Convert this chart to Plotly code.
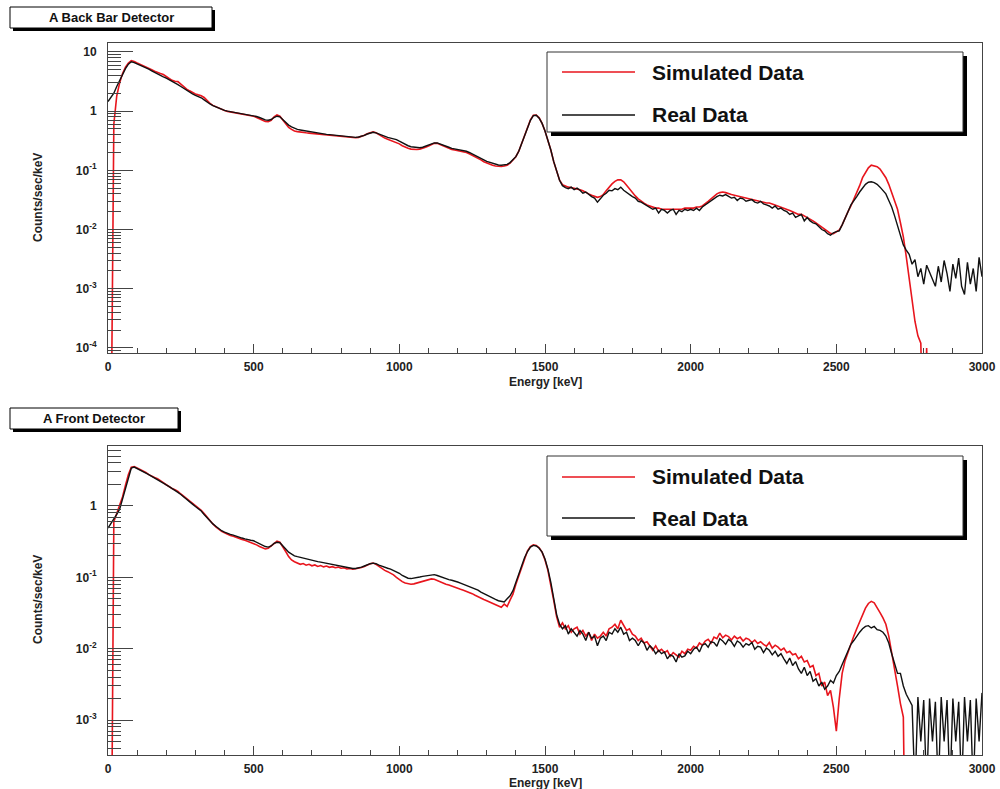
import plotly.graph_objects as go

# ---------------- data ----------------
energy_kev = list(range(0, 3001, 10))

back_real = [
    1.45, 1.7, 2.0, 2.6, 3.3, 4.2, 5.2, 6.2, 6.8, 6.6,
    6.3, 6.0, 5.7, 5.4, 5.1, 4.8, 4.5, 4.2, 4.0, 3.8,
    3.6, 3.4, 3.2, 3.0, 2.8, 2.6, 2.4, 2.25, 2.1, 1.95,
    1.85, 1.78, 1.68, 1.55, 1.42, 1.32, 1.24, 1.18, 1.12, 1.07,
    1.03, 1.0, 0.98, 0.96, 0.94, 0.92, 0.9, 0.89, 0.87, 0.86,
    0.84, 0.81, 0.78, 0.74, 0.71, 0.7, 0.72, 0.78, 0.82, 0.8,
    0.72, 0.64, 0.58, 0.54, 0.51, 0.49, 0.48, 0.47, 0.46, 0.45,
    0.44, 0.43, 0.425, 0.42, 0.41, 0.405, 0.4, 0.395, 0.39, 0.385,
    0.38, 0.375, 0.37, 0.365, 0.36, 0.36, 0.365, 0.375, 0.39, 0.41,
    0.43, 0.44, 0.43, 0.41, 0.39, 0.375, 0.36, 0.35, 0.34, 0.33,
    0.31, 0.29, 0.27, 0.26, 0.25, 0.245, 0.24, 0.24, 0.245, 0.255,
    0.265, 0.28, 0.29, 0.29, 0.28, 0.27, 0.255, 0.245, 0.235, 0.23,
    0.225, 0.22, 0.215, 0.21, 0.2, 0.19, 0.18, 0.17, 0.16, 0.15,
    0.142, 0.136, 0.13, 0.126, 0.123, 0.122, 0.123, 0.126, 0.135, 0.15,
    0.17, 0.21, 0.28, 0.38, 0.52, 0.7, 0.84, 0.85, 0.76, 0.62,
    0.46, 0.33, 0.22, 0.14, 0.095, 0.068, 0.055, 0.051, 0.049, 0.052,
    0.047, 0.05, 0.046, 0.041, 0.043, 0.039, 0.036, 0.034, 0.029, 0.033,
    0.038, 0.041, 0.046, 0.045, 0.049, 0.047, 0.052, 0.046, 0.042, 0.038,
    0.036, 0.034, 0.03, 0.029, 0.027, 0.025, 0.024, 0.022, 0.023, 0.019,
    0.022, 0.021, 0.019, 0.021, 0.022, 0.018, 0.021, 0.02, 0.022, 0.021,
    0.022, 0.021, 0.023, 0.021, 0.024, 0.026, 0.028, 0.031, 0.034, 0.036,
    0.038, 0.037, 0.039, 0.036, 0.034, 0.035, 0.031, 0.034, 0.033, 0.03,
    0.031, 0.032, 0.029, 0.028, 0.03, 0.027, 0.026, 0.025, 0.023, 0.025,
    0.022, 0.023, 0.021, 0.02, 0.018, 0.019, 0.016, 0.017, 0.018, 0.014,
    0.016, 0.014, 0.013, 0.0125, 0.011, 0.01, 0.0095, 0.0085, 0.008, 0.0088,
    0.0092, 0.0095, 0.012, 0.015, 0.02, 0.026, 0.03, 0.036, 0.043, 0.051,
    0.058, 0.063, 0.064, 0.062, 0.058, 0.052, 0.046, 0.04, 0.031, 0.024,
    0.017, 0.012, 0.008, 0.0055, 0.0045, 0.0038, 0.0026, 0.0031, 0.0016, 0.0022,
    0.0012, 0.0025, 0.0019, 0.0014, 0.0011, 0.0024, 0.0013, 0.003, 0.0018, 0.0009,
    0.0026, 0.0015, 0.0033, 0.0011, 0.0008, 0.0028, 0.0012, 0.0022, 0.0009, 0.0034,
    0.0016,
]

back_sim = [
    1e-6, 1e-6, 0.6, 1.8, 3.0, 4.3, 5.5, 6.5, 7.1, 6.9,
    6.5, 6.2, 5.9, 5.6, 5.3, 5.0, 4.7, 4.45, 4.3, 4.15,
    3.85, 3.55, 3.3, 3.2, 3.15, 2.85, 2.55, 2.35, 2.2, 2.05,
    1.95, 1.88, 1.82, 1.7, 1.5, 1.35, 1.25, 1.18, 1.11, 1.06,
    1.02, 0.99, 0.97, 0.95, 0.93, 0.91, 0.89, 0.88, 0.86, 0.85,
    0.82, 0.78, 0.74, 0.7, 0.67, 0.66, 0.7, 0.8, 0.86, 0.82,
    0.7, 0.6, 0.53, 0.49, 0.46, 0.45, 0.44, 0.435, 0.43, 0.425,
    0.42, 0.415, 0.41, 0.405, 0.4, 0.395, 0.39, 0.385, 0.38, 0.378,
    0.375, 0.37, 0.365, 0.36, 0.355, 0.355, 0.36, 0.37, 0.39, 0.415,
    0.435, 0.445, 0.43, 0.4, 0.37, 0.35, 0.335, 0.32, 0.31, 0.3,
    0.28, 0.26, 0.245, 0.235, 0.228, 0.225, 0.225, 0.228, 0.235, 0.245,
    0.258, 0.272, 0.285, 0.285, 0.272, 0.258, 0.245, 0.235, 0.225, 0.22,
    0.215, 0.21, 0.205, 0.2, 0.19, 0.18, 0.17, 0.16, 0.15, 0.14,
    0.133, 0.127, 0.122, 0.118, 0.116, 0.116, 0.118, 0.122, 0.132, 0.148,
    0.17, 0.21, 0.28, 0.38, 0.53, 0.71, 0.85, 0.86, 0.77, 0.62,
    0.46, 0.33, 0.22, 0.14, 0.095, 0.068, 0.057, 0.054, 0.052, 0.051,
    0.05, 0.049, 0.047, 0.045, 0.043, 0.04, 0.038, 0.036, 0.035, 0.036,
    0.039, 0.045, 0.052, 0.059, 0.065, 0.069, 0.069, 0.064, 0.056, 0.048,
    0.042, 0.037, 0.033, 0.03, 0.028, 0.026, 0.025, 0.024, 0.023, 0.023,
    0.022, 0.022, 0.022, 0.022, 0.022, 0.022, 0.022, 0.022, 0.023, 0.023,
    0.023, 0.023, 0.024, 0.024, 0.025, 0.027, 0.03, 0.033, 0.037, 0.04,
    0.042, 0.043, 0.042, 0.04, 0.039, 0.038, 0.037, 0.036, 0.035, 0.034,
    0.034, 0.033, 0.032, 0.031, 0.03, 0.029, 0.028, 0.028, 0.027, 0.026,
    0.025, 0.024, 0.023, 0.022, 0.021, 0.02, 0.019, 0.018, 0.018, 0.017,
    0.016, 0.015, 0.014, 0.013, 0.012, 0.011, 0.01, 0.0092, 0.0086, 0.0085,
    0.009, 0.0098, 0.012, 0.016, 0.02, 0.025, 0.032, 0.042, 0.055, 0.075,
    0.092, 0.11, 0.122, 0.12, 0.115, 0.105, 0.09, 0.075, 0.058, 0.042,
    0.03, 0.022, 0.013, 0.0075, 0.0035, 0.0016, 0.0006, 0.00028, 0.00016, 0.00012,
    1e-6, 0.0001, 1e-6, 1e-6, 1e-6, 1e-6, 1e-6, 1e-6, 1e-6, 1e-6,
    1e-6, 1e-6, 1e-6, 1e-6, 1e-6, 1e-6, 1e-6, 1e-6, 1e-6, 1e-6,
    1e-6,
]

front_real = [
    0.49, 0.56, 0.65, 0.76, 0.9, 1.25, 1.8, 2.6, 3.4, 3.5,
    3.35, 3.2, 3.05, 2.9, 2.75, 2.6, 2.45, 2.3, 2.2, 2.07,
    1.97, 1.87, 1.77, 1.67, 1.55, 1.45, 1.35, 1.25, 1.15, 1.06,
    0.98, 0.91, 0.85, 0.76, 0.68, 0.61, 0.56, 0.52, 0.48, 0.45,
    0.43, 0.41, 0.4, 0.39, 0.375, 0.365, 0.355, 0.345, 0.335, 0.33,
    0.325, 0.31, 0.295, 0.28, 0.27, 0.265, 0.275, 0.3, 0.31, 0.305,
    0.28, 0.25, 0.225, 0.21, 0.2, 0.195, 0.19, 0.185, 0.18, 0.176,
    0.172, 0.17, 0.166, 0.163, 0.16, 0.157, 0.155, 0.152, 0.148, 0.145,
    0.142, 0.138, 0.136, 0.134, 0.133, 0.133, 0.135, 0.139, 0.144, 0.15,
    0.155, 0.158, 0.155, 0.148, 0.142, 0.138, 0.134, 0.13, 0.125, 0.12,
    0.114, 0.106, 0.1, 0.097, 0.096, 0.097, 0.099, 0.101, 0.103, 0.105,
    0.107, 0.108, 0.109, 0.106, 0.102, 0.098, 0.096, 0.093, 0.091, 0.089,
    0.086, 0.083, 0.08, 0.077, 0.075, 0.072, 0.069, 0.066, 0.062, 0.059,
    0.056, 0.053, 0.051, 0.049, 0.047, 0.046, 0.045, 0.05, 0.055, 0.065,
    0.085, 0.11, 0.15, 0.19, 0.23, 0.265, 0.28, 0.275, 0.255, 0.225,
    0.18, 0.13, 0.085, 0.05, 0.03, 0.022, 0.019, 0.021, 0.016, 0.019,
    0.017, 0.015, 0.018, 0.016, 0.013, 0.017, 0.014, 0.015, 0.011, 0.014,
    0.015, 0.013, 0.017, 0.016, 0.019, 0.017, 0.02, 0.016, 0.017, 0.013,
    0.014, 0.013, 0.011, 0.013, 0.012, 0.0095, 0.011, 0.01, 0.0085, 0.0095,
    0.0085, 0.009, 0.0072, 0.0082, 0.0078, 0.0065, 0.0085, 0.0076, 0.0079, 0.0092,
    0.0085, 0.0098, 0.0105, 0.009, 0.0112, 0.0118, 0.0105, 0.0125, 0.0122, 0.0108,
    0.0138, 0.0128, 0.0115, 0.0135, 0.0125, 0.0108, 0.0128, 0.012, 0.0105, 0.0118,
    0.0112, 0.0122, 0.0098, 0.0108, 0.0105, 0.0088, 0.0102, 0.0095, 0.0082, 0.0092,
    0.0078, 0.0085, 0.0072, 0.0062, 0.0074, 0.0058, 0.0066, 0.0052, 0.0045, 0.0055,
    0.0042, 0.0048, 0.0035, 0.0038, 0.003, 0.0034, 0.0027, 0.003, 0.0036, 0.0033,
    0.0042, 0.0048, 0.006, 0.0075, 0.009, 0.0115, 0.013, 0.015, 0.017, 0.019,
    0.0205, 0.021, 0.0195, 0.0205, 0.0185, 0.018, 0.017, 0.015, 0.012, 0.0085,
    0.006, 0.0045, 0.0045, 0.003, 0.0023, 0.0019, 0.0016, 0.0001, 0.0021, 0.0005,
    0.0019, 0.0001, 0.002, 0.0005, 0.0018, 0.0001, 0.0021, 0.0005, 0.0019, 0.0001,
    0.002, 0.0005, 0.0018, 0.0001, 0.0021, 0.0005, 0.0019, 0.0001, 0.002, 0.0005,
    0.0024,
]

front_sim = [
    1e-6, 1e-6, 0.6, 0.78, 0.98, 1.35, 1.95, 2.75, 3.5, 3.55,
    3.4, 3.25, 3.1, 2.95, 2.75, 2.6, 2.5, 2.4, 2.28, 2.12,
    1.98, 1.86, 1.76, 1.69, 1.6, 1.47, 1.36, 1.26, 1.16, 1.08,
    1.0, 0.93, 0.87, 0.78, 0.69, 0.62, 0.56, 0.51, 0.47, 0.44,
    0.42, 0.4, 0.385, 0.375, 0.36, 0.35, 0.34, 0.33, 0.32, 0.31,
    0.3, 0.285, 0.27, 0.258, 0.25, 0.255, 0.275, 0.305, 0.32, 0.31,
    0.27, 0.23, 0.195, 0.175, 0.165, 0.158, 0.152, 0.156, 0.148, 0.152,
    0.145, 0.149, 0.142, 0.146, 0.14, 0.144, 0.138, 0.141, 0.136, 0.139,
    0.134, 0.136, 0.131, 0.133, 0.13, 0.132, 0.133, 0.137, 0.142, 0.149,
    0.155, 0.158, 0.152, 0.142, 0.132, 0.125, 0.12, 0.114, 0.108, 0.1,
    0.093, 0.087, 0.083, 0.081, 0.08, 0.081, 0.083, 0.086, 0.089, 0.091,
    0.093, 0.095, 0.094, 0.09, 0.086, 0.083, 0.08, 0.078, 0.075, 0.073,
    0.071, 0.068, 0.066, 0.064, 0.061, 0.059, 0.056, 0.054, 0.051, 0.049,
    0.047, 0.045, 0.043, 0.041, 0.04, 0.038, 0.042, 0.039, 0.048, 0.058,
    0.08, 0.105, 0.145, 0.19, 0.235, 0.27, 0.285, 0.28, 0.26, 0.225,
    0.175, 0.125, 0.08, 0.047, 0.028, 0.02, 0.023, 0.019, 0.021, 0.017,
    0.019, 0.02, 0.016, 0.018, 0.015, 0.017, 0.013, 0.016, 0.014, 0.015,
    0.017, 0.015, 0.019, 0.02, 0.022, 0.019, 0.025, 0.021, 0.018, 0.019,
    0.016, 0.015, 0.013, 0.014, 0.012, 0.0125, 0.011, 0.0095, 0.011, 0.0092,
    0.0098, 0.0088, 0.0094, 0.0078, 0.0088, 0.0082, 0.0076, 0.0092, 0.0085, 0.0098,
    0.0095, 0.0108, 0.0102, 0.012, 0.0112, 0.0128, 0.0135, 0.012, 0.0145, 0.0138,
    0.0165, 0.0142, 0.0155, 0.0148, 0.0132, 0.015, 0.0138, 0.0145, 0.0128, 0.014,
    0.0135, 0.0122, 0.0132, 0.0118, 0.0125, 0.0115, 0.0108, 0.0122, 0.0102, 0.0112,
    0.0105, 0.0095, 0.0102, 0.0088, 0.0092, 0.0082, 0.0085, 0.0072, 0.0078, 0.0065,
    0.0068, 0.0055, 0.0058, 0.0042, 0.0045, 0.003, 0.0034, 0.0022, 0.0026, 0.0015,
    0.0007, 0.002, 0.0045, 0.0068, 0.009, 0.0115, 0.015, 0.019, 0.024, 0.031,
    0.037, 0.043, 0.046, 0.044, 0.038, 0.032, 0.027, 0.022, 0.015, 0.009,
    0.0055, 0.003, 0.0017, 0.0011, 1e-6, 1e-6, 1e-6, 1e-6, 1e-6, 1e-6,
    1e-6, 1e-6, 1e-6, 1e-6, 1e-6, 1e-6, 1e-6, 1e-6, 1e-6, 1e-6,
    1e-6, 1e-6, 1e-6, 1e-6, 1e-6, 1e-6, 1e-6, 1e-6, 1e-6, 1e-6,
    1e-6,
]

x_tick_vals = [0, 500, 1000, 1500, 2000, 2500, 3000]
x_tick_text = ["0", "500", "1000", "1500", "2000", "2500", "3000"]
back_y_ticks = [1e-4, 1e-3, 1e-2, 1e-1, 1, 10]
back_y_text = ["10<sup>-4</sup>", "10<sup>-3</sup>", "10<sup>-2</sup>", "10<sup>-1</sup>", "1", "10"]
front_y_ticks = [1e-3, 1e-2, 1e-1, 1]
front_y_text = ["10<sup>-3</sup>", "10<sup>-2</sup>", "10<sup>-1</sup>", "1"]
panel_titles = ["A Back Bar Detector", "A Front Detector"]
series_names = ["Simulated Data", "Real Data"]

# ---------------- styling ----------------
W, H = 1000, 789
RED = "#e8151d"
BLACK = "#111111"
FONT = "Arial, Liberation Sans, sans-serif"
AXC = "#444444"


def px(x):
    return x / W


def py(y):
    return 1 - y / H


fig = go.Figure()
panels = [
    (back_sim, back_real, "x", "y"),
    (front_sim, front_real, "x2", "y2"),
]
for sim, real, xa, ya in panels:
    fig.add_trace(go.Scatter(x=energy_kev, y=sim, mode="lines", name=series_names[0],
                             line=dict(color=RED, width=1.6),
                             xaxis=xa, yaxis=ya, showlegend=False))
    fig.add_trace(go.Scatter(x=energy_kev, y=real, mode="lines", name=series_names[1],
                             line=dict(color=BLACK, width=1.4),
                             xaxis=xa, yaxis=ya, showlegend=False))

minor_x = list(range(0, 3001, 100))
minor_y = [m * 10.0 ** e for e in range(-5, 2) for m in range(2, 10)]


def xaxis_cfg(anchor):
    return dict(
        domain=[px(108), px(982)], anchor=anchor, range=[0, 3000],
        automargin=False,
        tickmode="array", tickvals=x_tick_vals,
        ticktext=["<b>%s</b>" % t for t in x_tick_text],
        ticks="inside", ticklen=9, tickcolor=AXC, tickwidth=1,
        minor=dict(tickmode="array", tickvals=minor_x, ticks="inside", ticklen=5,
                   tickcolor=AXC, showgrid=False),
        showline=True, mirror=True, linecolor=AXC, linewidth=1,
        showgrid=False, zeroline=False,
        tickfont=dict(family=FONT, size=12, color="#222"),
        ticklabelstandoff=3,
    )


def yaxis_cfg(anchor, dom, rng, vals, texts):
    return dict(
        type="log", domain=dom, anchor=anchor, range=rng,
        automargin=False,
        tickmode="array", tickvals=vals, ticktext=["<b>%s</b>" % t for t in texts],
        ticks="inside", ticklen=25, tickcolor=AXC, tickwidth=1,
        minor=dict(tickmode="array", tickvals=minor_y, ticks="inside", ticklen=13,
                   tickcolor=AXC, showgrid=False),
        showline=True, mirror=True, linecolor=AXC, linewidth=1,
        showgrid=False, zeroline=False,
        tickfont=dict(family=FONT, size=12, color="#222"),
        ticklabelstandoff=8,
    )


shapes = []
annotations = []

# panel title boxes and legend boxes (pixel geometry)
title_boxes = [(10, 212, 7, 28), (10, 178, 408, 429)]
legend_boxes = [(547, 963, 52, 132), (547, 963, 456, 536)]
legend_rows = [(72, 115), (477, 518)]
ytitle_centres = [198, 600]
xtitle_y = [382, 783]

for i in range(2):
    x0, x1, y0, y1 = title_boxes[i]
    shapes.append(dict(type="rect", xref="paper", yref="paper", layer="above",
                       x0=px(x0 + 3), x1=px(x1 + 3), y0=py(y1 + 3), y1=py(y0 + 3),
                       fillcolor="black", line=dict(width=0)))
    shapes.append(dict(type="rect", xref="paper", yref="paper", layer="above",
                       x0=px(x0), x1=px(x1), y0=py(y1), y1=py(y0),
                       fillcolor="white", line=dict(color="black", width=1)))
    annotations.append(dict(text="<b>%s</b>" % panel_titles[i], xref="paper", yref="paper",
                            x=px((x0 + x1) / 2), y=py((y0 + y1) / 2),
                            xanchor="center", yanchor="middle", showarrow=False,
                            font=dict(family=FONT, size=13, color="#111")))

    lx0, lx1, ly0, ly1 = legend_boxes[i]
    shapes.append(dict(type="rect", xref="paper", yref="paper", layer="above",
                       x0=px(lx0 + 4), x1=px(lx1 + 4), y0=py(ly1 + 4), y1=py(ly0 + 4),
                       fillcolor="black", line=dict(width=0)))
    shapes.append(dict(type="rect", xref="paper", yref="paper", layer="above",
                       x0=px(lx0), x1=px(lx1), y0=py(ly1), y1=py(ly0),
                       fillcolor="white", line=dict(color="#333", width=1)))
    for row_y, col, name in zip(legend_rows[i], [RED, BLACK], series_names):
        shapes.append(dict(type="line", xref="paper", yref="paper", layer="above",
                           x0=px(562), x1=px(635), y0=py(row_y), y1=py(row_y),
                           line=dict(color=col, width=1.5)))
        annotations.append(dict(text="<b>%s</b>" % name, xref="paper", yref="paper",
                                x=px(650), y=py(row_y), xanchor="left", yanchor="middle",
                                showarrow=False,
                                font=dict(family=FONT, size=21, color="#111")))

    annotations.append(dict(text="<b>Counts/sec/keV</b>", xref="paper", yref="paper",
                            x=px(38), y=py(ytitle_centres[i]), textangle=-90,
                            xanchor="center", yanchor="middle", showarrow=False,
                            font=dict(family=FONT, size=12, color="#222")))
    annotations.append(dict(text="<b>Energy [keV]</b>", xref="paper", yref="paper",
                            x=px(545), y=py(xtitle_y[i]),
                            xanchor="center", yanchor="middle", showarrow=False,
                            font=dict(family=FONT, size=12, color="#222")))

fig.update_layout(
    template="none",
    width=W, height=H, autosize=False,
    margin=dict(l=0, r=0, t=0, b=0, pad=0),
    paper_bgcolor="white", plot_bgcolor="white",
    showlegend=False,
    xaxis=xaxis_cfg("y"),
    yaxis=yaxis_cfg("x", [py(353), py(43)], [-4.085, 1.15], back_y_ticks, back_y_text),
    xaxis2=xaxis_cfg("y2"),
    yaxis2=yaxis_cfg("x2", [py(755), py(446)], [-3.49, 0.84], front_y_ticks, front_y_text),
    shapes=shapes,
    annotations=annotations,
)

fig.write_html(
    "out.html",
    config={"displayModeBar": False},
    post_script="document.body.style.margin='0';document.body.style.overflow='hidden';",
)
